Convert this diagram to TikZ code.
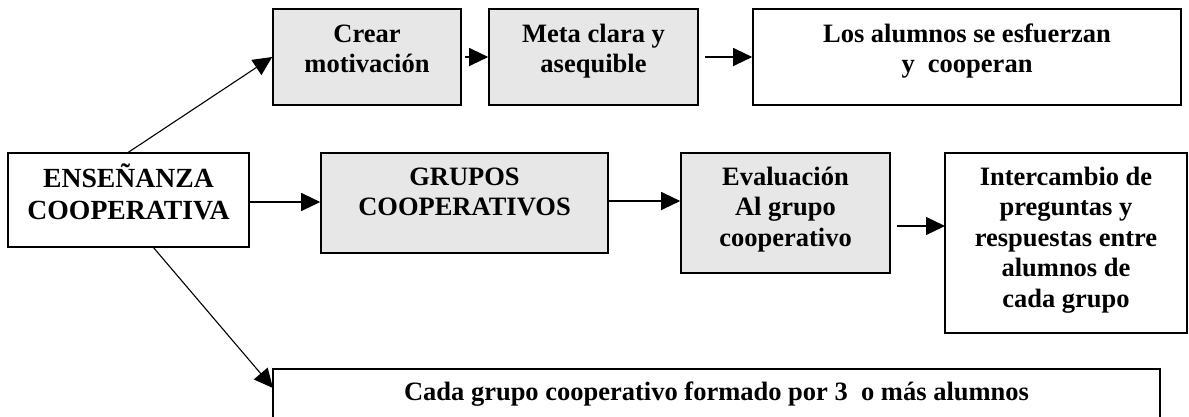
\documentclass[tikz,border=0pt]{standalone}
\usepackage{fontspec}
\setmainfont{Liberation Serif}
\usetikzlibrary{arrows.meta}
\definecolor{boxgray}{RGB}{231,231,231}
\tikzset{
  box/.style={draw=black, line width=1.6pt, rectangle, inner sep=0pt, fill=white},
  graybox/.style={box, fill=boxgray},
  txt/.style={align=center, inner sep=0pt, font=\bfseries\fontsize{26.5}{30.5}\selectfont},
  bigtxt/.style={align=center, inner sep=0pt, font=\bfseries\fontsize{27.7}{32}\selectfont},
  conn/.style={line width=1.1pt, -{Triangle[length=19pt,width=18pt]}},
}
\begin{document}
\begin{tikzpicture}[x=1pt,y=-1pt]
\useasboundingbox (0,0) rectangle (1189,416);
\clip (0,0) rectangle (1189,416);
\fill[white] (0,0) rectangle (1189,416);
% boxes
\node[box, minimum width=241pt, minimum height=94pt] (ens) at (128.5,200) {};
\node[graybox, minimum width=188pt, minimum height=96pt] (crear) at (367,57) {};
\node[graybox, minimum width=209pt, minimum height=96pt] (meta) at (593.5,57) {};
\node[box, minimum width=428pt, minimum height=96pt] (los) at (967,57) {};
\node[graybox, minimum width=287pt, minimum height=100pt] (grupos) at (464.5,203) {};
\node[graybox, minimum width=209pt, minimum height=120pt] (eval) at (785.5,213) {};
\node[box, minimum width=242pt, minimum height=180pt] (inter) at (1066,243) {};
\node[box, minimum width=887pt, minimum height=71pt] (cada) at (716.5,404.5) {};
% texts
\node[bigtxt] (ens-t) at (128.5,196.3) {\strut ENSEÑANZA\\\strut COOPERATIVA};
\node[txt] (crear-t) at (367,51.2) {\strut Crear\\\strut motivación};
\node[txt] (meta-t) at (593.5,51.2) {\strut Meta clara y\\\strut asequible};
\node[txt] (los-t) at (967,51.2) {\strut Los alumnos se esfuerzan\\\strut y\ \ cooperan};
\node[txt] (grupos-t) at (464.5,194.2) {\strut GRUPOS\\\strut COOPERATIVOS};
\node[txt] (eval-t) at (785.5,209.4) {\strut Evaluación\\\strut Al grupo\\\strut cooperativo};
\node[txt] (inter-t) at (1066,239.9) {\strut Intercambio de\\\strut preguntas y\\\strut respuestas entre\\\strut alumnos de\\\strut cada grupo};
\node[txt] (cada-t) at (716.5,393.9) {\strut Cada grupo cooperativo formado por 3\ \ o más alumnos};
% connector helpers
\coordinate (crearOut) at (465,57);
\coordinate (metaOut) at (705,57);
\coordinate (evalOut) at (897,226);
\coordinate (interIn) at (945,226);
\coordinate (ensLow) at (153,247);
\coordinate (cadaIn) at (273,388);
% connectors
\draw[conn] (ens.north) -- (crear.west);
\draw[conn] (crearOut) -- (meta.west);
\draw[conn] (metaOut) -- (los.west);
\draw[conn] (ens.east |- 0,202) -- (grupos.west |- 0,202);
\draw[conn] (grupos.east |- 0,201) -- (eval.west |- 0,201);
\draw[conn] (evalOut) -- (interIn);
\draw[conn] (ensLow) -- (cadaIn);
\end{tikzpicture}
\end{document}
